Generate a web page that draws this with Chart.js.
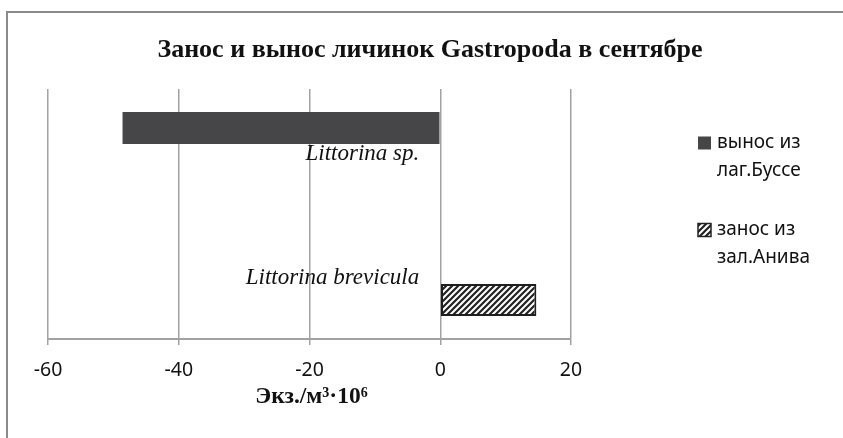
<!DOCTYPE html>
<html>
<head>
<meta charset="utf-8">
<script src="https://cdn.jsdelivr.net/npm/chart.js@4.4.1/dist/chart.umd.min.js"></script>
<style>
    html, body { margin: 0; padding: 0; background: #fff; overflow: hidden; }
    #wrap { position: relative; width: 843px; height: 438px; }
</style>
</head>
<body>
<div id="wrap"><canvas id="chart" width="843" height="438"></canvas></div>
<script>
// Chart data
const categories = ["Littorina sp.", "Littorina brevicula"];
const outflowBusse = [-48.6, null];   // вынос из лаг.Буссе
const inflowAniva = [null, 14.7];     // занос из зал.Анива
const seriesNames = [["вынос из", "лаг.Буссе"], ["занос из", "зал.Анива"]];
const xMin = -60, xMax = 20, xStep = 20;
const chartTitle = "Занос и вынос личинок Gastropoda в сентябре";
const axisTitle = "Экз./м³·10⁶";

const SERIF = "'Liberation Serif', 'Times New Roman', serif";
const SANS = "'Noto Sans', 'Open Sans', sans-serif";
const DARK = "#464648";
const GRID = "#a2a2a2";

/**
 * Diagonal hatch used for the "занос" series
 */
function makeHatch(ctx) {
    const c = document.createElement("canvas");
    c.width = 6; c.height = 6;
    const g = c.getContext("2d");
    g.fillStyle = "#fff";
    g.fillRect(0, 0, 6, 6);
    g.strokeStyle = "#222";
    g.lineWidth = 2.2;
    g.beginPath();
    g.moveTo(-3, 3); g.lineTo(3, -3);
    g.moveTo(0, 6); g.lineTo(6, 0);
    g.moveTo(3, 9); g.lineTo(9, 3);
    g.stroke();
    return ctx.createPattern(c, "repeat");
}

const canvas = document.getElementById("chart");
const ctx = canvas.getContext("2d");
const hatch = makeHatch(ctx);

// Border, title, data labels and legend drawn around the chart
const decorPlugin = {
    id: "decor",
    beforeDraw(chart) {
        const c = chart.ctx;
        c.save();
        c.strokeStyle = "#8a8a8a";
        c.lineWidth = 2;
        c.beginPath();
        c.moveTo(7, 438);
        c.lineTo(7, 12);
        c.lineTo(843, 12);
        c.stroke();
        c.restore();
    },
    afterDraw(chart) {
        const c = chart.ctx;
        const area = chart.chartArea;
        const x0 = chart.scales.x.getPixelForValue(0);
        c.save();

        // title
        c.fillStyle = "#111";
        c.font = "bold 26px " + SERIF;
        c.textAlign = "center";
        c.textBaseline = "middle";
        c.fillText(chartTitle, 430, 50);

        // axis title
        c.font = "bold 23.5px " + SERIF;
        c.fillText(axisTitle, (area.left + area.right) / 2 + 2, 397);

        // category names next to the bars
        c.font = "italic 23px " + SERIF;
        c.textAlign = "right";
        c.textBaseline = "alphabetic";
        categories.forEach((name, i) => {
            const ds = outflowBusse[i] !== null ? 0 : 1;
            const bar = chart.getDatasetMeta(ds).data[i];
            const half = bar.height / 2;
            const y = i === 0 ? bar.y + half + 16 : bar.y - half;
            c.fillText(name, x0 - 21, y);
        });

        // legend
        const lx = area.right + 127;
        const fills = [DARK, hatch];
        c.font = "19px " + SANS;
        c.textAlign = "left";
        c.textBaseline = "middle";
        seriesNames.forEach((lines, k) => {
            const cy = area.top + 54 + k * 87;
            c.fillStyle = fills[k];
            c.fillRect(lx, cy - 6.5, 13, 13);
            if (k === 1) {
                c.strokeStyle = "#222";
                c.lineWidth = 1.5;
                c.strokeRect(lx, cy - 6.5, 13, 13);
            }
            c.fillStyle = "#111";
            lines.forEach((t, j) => c.fillText(t, lx + 19, cy + j * 27.5));
        });
        c.restore();
    }
};

new Chart(canvas, {
    type: "bar",
    data: {
        labels: categories,
        datasets: [{
            label: seriesNames[0].join(" "),
            data: outflowBusse,
            backgroundColor: DARK,
            borderWidth: 0
        }, {
            label: seriesNames[1].join(" "),
            data: inflowAniva,
            backgroundColor: hatch,
            borderColor: "#1e1e1e",
            borderWidth: 2,
            borderSkipped: false
        }]
    },
    options: {
        indexAxis: "y",
        responsive: false,
        animation: false,
        categoryPercentage: 0.752,
        barPercentage: 0.68,
        layout: { padding: { left: 48, right: 272, top: 89, bottom: 0 } },
        plugins: {
            legend: { display: false },
            title: { display: false },
            tooltip: { enabled: false }
        },
        scales: {
            y: { display: false },
            x: {
                min: xMin,
                max: xMax,
                afterFit(scale) { scale.height = 99; },
                ticks: {
                    stepSize: xStep,
                    color: "#111",
                    font: { family: SANS, size: 19.5 },
                    padding: 14
                },
                grid: { color: GRID, lineWidth: 1.5, tickLength: 6 },
                border: { color: GRID, width: 2 }
            }
        }
    },
    plugins: [decorPlugin]
});
</script>
</body>
</html>
